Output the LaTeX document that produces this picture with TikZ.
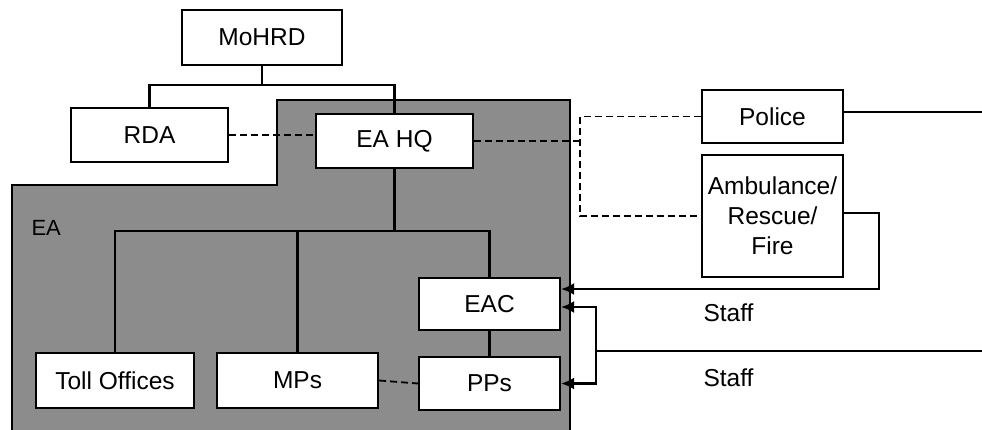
\documentclass[tikz,border=0pt]{standalone}
\usepackage{fontspec}
\setmainfont{Liberation Sans}
\usetikzlibrary{arrows.meta}

\begin{document}
\begin{tikzpicture}[x=1pt,y=-1pt,
		caja/.style={draw, line width=2.2pt, fill=white, inner sep=0pt, font=\fontsize{24.5}{28}\selectfont},
		linea/.style={line width=2.2pt},
		enlace/.style={line width=1.8pt, dash pattern=on 7pt off 4pt},
		flecha/.style={line width=2.2pt, -{Latex[length=13pt,width=12pt]}}]
	\useasboundingbox (0,0) rectangle (982,430);

	% Zona sombreada (EA)
	\fill[black!45] (12,430) -- (12,185) -- (277,185) -- (277,100) -- (570,100) -- (570,430) -- cycle;
	\draw[line width=1.6pt] (12,430) -- (12,185) -- (277,185) -- (277,100) -- (570,100) -- (570,430);
	\node[anchor=west, font=\fontsize{22}{26}\selectfont] (ea) at (28,228) {EA};

	% Nodos
	\node[caja, minimum width=160pt, minimum height=55pt] (mohrd) at (262,37.5) {MoHRD};
	\node[caja, minimum width=157pt, minimum height=54pt] (rda) at (149.5,135) {RDA};
	\node[caja, minimum width=157pt, minimum height=54pt] (eahq) at (394.5,141) {EA HQ};
	\node[caja, minimum width=141pt, minimum height=53pt] (police) at (772.5,116.5) {Police};
	\node[caja, minimum width=141pt, minimum height=122pt, align=center] (amb) at (772.5,216) {Ambulance/\\[2pt]Rescue/\\[2pt]Fire};
	\node[caja, minimum width=141pt, minimum height=52pt] (eac) at (489.5,304) {EAC};
	\node[caja, minimum width=141pt, minimum height=53pt] (pps) at (489.5,383.5) {PPs};
	\node[caja, minimum width=158pt, minimum height=55pt] (toll) at (115,380.5) {Toll Offices};
	\node[caja, minimum width=161pt, minimum height=55pt] (mps) at (297.5,380.5) {MPs};

	% Rama superior
	\draw[linea] (mohrd.south) -- (mohrd.south |- 0,85);
	\draw[linea] (rda.north) -- (rda.north |- 0,85) -| (eahq.north);

	% Rama de EA
	\draw[linea] (eahq.south) -- (eahq.south |- 0,231);
	\draw[linea] (toll.north) |- (eac.north |- 0,231) -- (eac.north);
	\draw[linea] (mps.north) -- (mps.north |- 0,231);
	\draw[linea] (eac.south) -- (pps.north);

	% Enlaces punteados
	\draw[enlace] (rda.east) -- (rda.east -| eahq.west);
	\draw[enlace] (mps.east) -- (pps.west);
	\coordinate (nudo) at (580,141);
	\draw[enlace] (eahq.east) -- (nudo);
	\draw[enlace] (police.west) -| (nudo) |- (amb.west);

	% Personal
	\coordinate (bordeA) at (982,112);
	\coordinate (bordeB) at (982,351);
	\coordinate (reparto) at (596,351);
	\draw[linea] ([yshift=4.5pt]police.east) -- (bordeA);
	\draw[flecha] ([yshift=3pt]amb.east) -- ++(35,0) |- ([yshift=15pt]eac.east);
	\draw[linea] (bordeB) -- (reparto);
	\draw[flecha] (reparto) |- ([yshift=-3pt]eac.east);
	\draw[flecha] (reparto) |- (pps.east);
	\node[anchor=west, font=\fontsize{24.5}{28}\selectfont] (staffA) at (700,313) {Staff};
	\node[anchor=west, font=\fontsize{24.5}{28}\selectfont] (staffB) at (700,378) {Staff};
\end{tikzpicture}
\end{document}
